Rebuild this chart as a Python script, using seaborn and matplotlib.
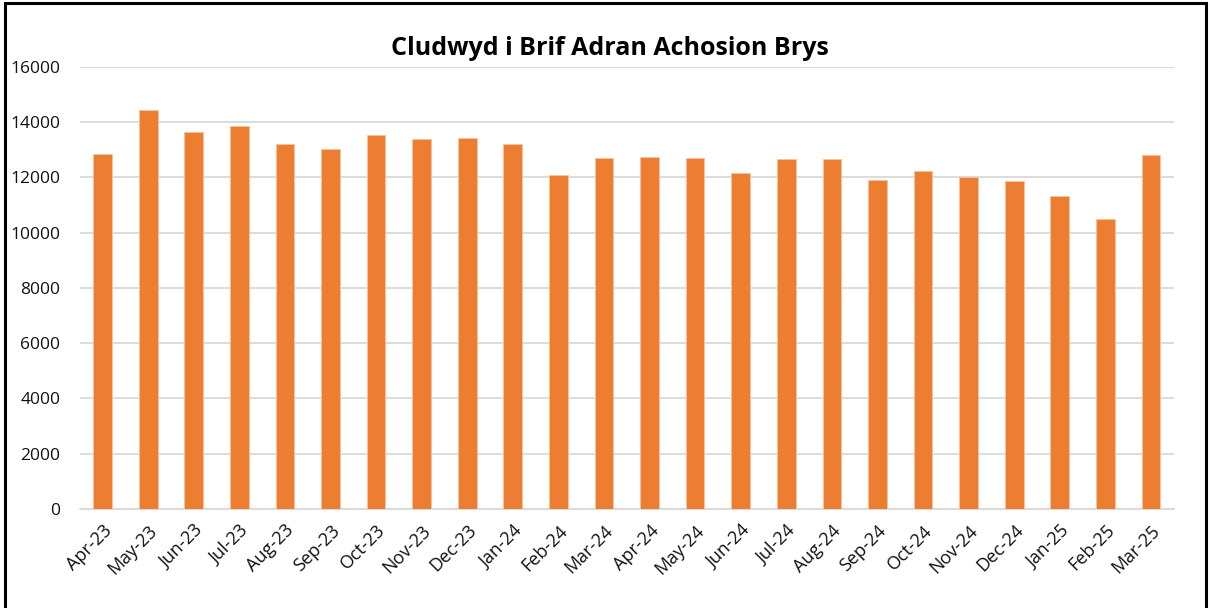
import numpy as np
import pandas as pd
import seaborn as sns
import matplotlib.pyplot as plt
from matplotlib.patches import Rectangle

months = ["Apr-23", "May-23", "Jun-23", "Jul-23", "Aug-23", "Sep-23", "Oct-23", "Nov-23",
          "Dec-23", "Jan-24", "Feb-24", "Mar-24", "Apr-24", "May-24", "Jun-24", "Jul-24",
          "Aug-24", "Sep-24", "Oct-24", "Nov-24", "Dec-24", "Jan-25", "Feb-25", "Mar-25"]
attendances = [12843, 14446, 13627, 13843, 13193, 13036, 13518, 13398,
               13422, 13205, 12072, 12699, 12747, 12711, 12157, 12675,
               12675, 11892, 12217, 12024, 11880, 11313, 10494, 12807]
y_ticks = list(range(0, 16001, 2000))

df = pd.DataFrame({"month": months, "value": attendances})

sns.set_style("white")
plt.rcParams['font.family'] = ['Open Sans', 'DejaVu Sans']

fig = plt.figure(figsize=(12.1, 6.08), dpi=100)
ax = fig.add_axes([0.066, 0.163, 0.904, 0.727])

sns.barplot(data=df, x="month", y="value", color="#ED7D31", saturation=1,
            width=0.41, edgecolor="#F6C4A0", linewidth=0.6, ax=ax, zorder=3)

ax.set_ylim(0, 16000)
ax.set_xlim(-0.5, len(months) - 0.5)
ax.set_yticks(y_ticks)
ax.set_yticklabels([str(t) for t in y_ticks], fontsize=12.5, color="#111111")
ax.yaxis.grid(True, color="#d9d9d9", linewidth=1.3, zorder=0)
ax.set_axisbelow(True)

ax.set_xticks(range(len(months)))
ax.set_xticklabels(months, rotation=45, ha="right", rotation_mode="anchor", fontsize=13, color="#111111")
ax.set_xticks(np.arange(-0.5, len(months)), minor=True)
ax.tick_params(axis="x", which="major", length=0, pad=9)
ax.tick_params(axis="x", which="minor", length=6, color="#d9d9d9", width=1.3)
ax.tick_params(axis="y", length=0, pad=14)

for s in ["top", "right", "left"]:
    ax.spines[s].set_visible(False)
ax.spines["bottom"].set_color("#d9d9d9")
ax.spines["bottom"].set_linewidth(1.3)

ax.set_xlabel("")
ax.set_ylabel("")
fig.text(0.504, 0.921, "Cludwyd i Brif Adran Achosion Brys", ha="center", va="center",
         fontsize=18, fontweight="bold", color="black")

fig.patches.append(Rectangle((0.004, -0.01), 0.993, 1.005, transform=fig.transFigure,
                             fill=False, edgecolor="black", linewidth=2.2))

fig.savefig("out.png", dpi=100)
